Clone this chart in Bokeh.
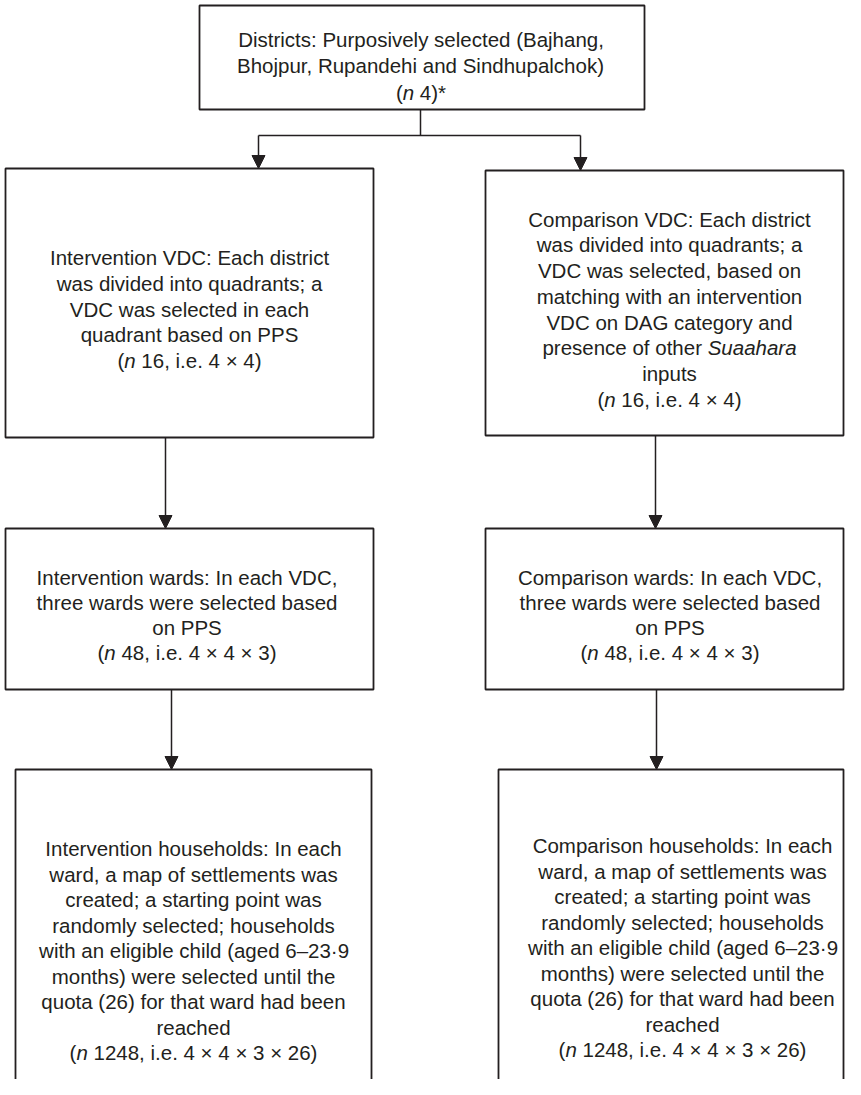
from bokeh.plotting import figure
from bokeh.models import Range1d, Arrow, NormalHead, ColumnDataSource
from bokeh.core.properties import value
from bokeh.embed import file_html
from bokeh.resources import INLINE

# ---------------- data (texts of the flow diagram) ----------------
n_values = [4, 16, 16, 48, 48, 1248, 1248]
n_formulas = ["", "4 × 4", "4 × 4", "4 × 4 × 3", "4 × 4 × 3", "4 × 4 × 3 × 26", "4 × 4 × 3 × 26"]

districts_text = ["Districts: Purposively selected (Bajhang,",
                  "Bhojpur, Rupandehi and Sindhupalchok)"]
int_vdc_text = ["Intervention VDC: Each district",
                "was divided into quadrants; a",
                "VDC was selected in each",
                "quadrant based on PPS"]
cmp_vdc_text = ["Comparison VDC: Each district",
                "was divided into quadrants; a",
                "VDC was selected, based on",
                "matching with an intervention",
                "VDC on DAG category and",
                "presence of other _Suaahara_",
                "inputs"]
int_ward_text = ["Intervention wards: In each VDC,",
                 "three wards were selected based",
                 "on PPS"]
cmp_ward_text = ["Comparison wards: In each VDC,",
                 "three wards were selected based",
                 "on PPS"]
int_hh_text = ["Intervention households: In each",
               "ward, a map of settlements was",
               "created; a starting point was",
               "randomly selected; households",
               "with an eligible child (aged 6–23·9",
               "months) were selected until the",
               "quota (26) for that ward had been",
               "reached"]
cmp_hh_text = ["Comparison households: In each",
               "ward, a map of settlements was",
               "created; a starting point was",
               "randomly selected; households",
               "with an eligible child (aged 6–23·9",
               "months) were selected until the",
               "quota (26) for that ward had been",
               "reached"]


def n_line(i):
    if n_formulas[i]:
        return "(_n_ %d, i.e. %s)" % (n_values[i], n_formulas[i])
    return "(_n_ %d)*" % n_values[i]


box_texts = [
    districts_text + [n_line(0)],
    int_vdc_text + [n_line(1)],
    cmp_vdc_text + [n_line(2)],
    int_ward_text + [n_line(3)],
    cmp_ward_text + [n_line(4)],
    int_hh_text + [n_line(5)],
    cmp_hh_text + [n_line(6)],
]

# ---------------- layout (pixels) ----------------
# box: left, right, top, bottom ; text centre x, first baseline, line step
boxes = [
    (207, 652, 13, 117, 428.5, 46.5, 26.8),
    (13, 381, 176, 445, 197, 265, 25.8),
    (493, 851, 178, 443, 677, 226.7, 25.7),
    (13, 381, 536, 697, 194.5, 585, 25.0),
    (493, 851, 536, 697, 677.5, 585, 25.0),
    (23, 379, 777, 1100, 201, 856, 25.5),
    (506, 851, 777, 1100, 690, 853, 25.5),
]

FONT = "Liberation Sans"
FS = 20.5
INK = "#231f20"

# Helvetica/Arial advance widths (1/1000 em)
W = {' ': 278, '(': 333, ')': 333, '*': 389, ',': 278, '-': 333, '.': 278, ':': 278, ';': 278,
     'A': 667, 'B': 667, 'C': 722, 'D': 722, 'E': 667, 'F': 611, 'G': 778, 'H': 722, 'I': 278,
     'J': 500, 'K': 667, 'L': 556, 'M': 833, 'N': 722, 'O': 778, 'P': 667, 'Q': 778, 'R': 722,
     'S': 667, 'T': 611, 'U': 722, 'V': 667, 'W': 944, 'X': 667, 'Y': 667, 'Z': 611,
     'a': 556, 'b': 556, 'c': 500, 'd': 556, 'e': 556, 'f': 278, 'g': 556, 'h': 556, 'i': 222,
     'j': 222, 'k': 500, 'l': 222, 'm': 833, 'n': 556, 'o': 556, 'p': 556, 'q': 556, 'r': 333,
     's': 500, 't': 278, 'u': 556, 'v': 500, 'w': 722, 'x': 500, 'y': 500, 'z': 500,
     '×': 584, '–': 556, '·': 278}


def width(s):
    return sum(W.get(c, 556) for c in s) * FS / 1000.0


norm = dict(x=[], y=[], t=[])
ital = dict(x=[], y=[], t=[])

for (l, r, t, b, cx, y0, dy), lines in zip(boxes, box_texts):
    for k, line in enumerate(lines):
        segs = line.split("_")
        total = sum(width(s) for s in segs)
        x = cx - total / 2.0
        y = y0 + k * dy
        for j, s in enumerate(segs):
            body = s.lstrip(" ")
            lead = width(s[:len(s) - len(body)])
            body = body.rstrip(" ")
            if body:
                d = ital if j % 2 == 1 else norm
                d["x"].append(x + lead)
                d["y"].append(y)
                d["t"].append(body)
            x += width(s)

p = figure(width=845, height=1079, x_range=Range1d(8, 853), y_range=Range1d(1087, 8),
           output_backend="svg", toolbar_location=None, min_border=0,
           x_axis_location=None, y_axis_location=None)
p.grid.visible = False
p.outline_line_color = None
p.background_fill_color = "white"
p.border_fill_color = "white"

p.quad(left=[b[0] for b in boxes], right=[b[1] for b in boxes],
       top=[b[2] for b in boxes], bottom=[b[3] for b in boxes],
       fill_color=None, line_color=INK, line_width=1.8)

# connectors
p.line([428, 428], [117, 143], line_color=INK, line_width=1.5)
p.line([266, 588], [143, 143], line_color=INK, line_width=1.5)

arrows = [(266, 143, 266, 176), (588, 143, 588, 178),
          (173, 445, 173, 536), (663, 443, 663, 536),
          (179, 697, 179, 777), (664, 697, 664, 777)]
for xs, ys, xe, ye in arrows:
    p.add_layout(Arrow(x_start=xs, y_start=ys, x_end=xe, y_end=ye, line_color=INK,
                       line_width=1.5,
                       end=NormalHead(size=13, fill_color=INK, line_color=INK, line_width=1)))

p.text(x="x", y="y", text="t", source=ColumnDataSource(norm), text_font=value(FONT),
       text_font_size="%gpx" % FS, text_color=INK, text_align="left",
       text_baseline="alphabetic")
p.text(x="x", y="y", text="t", source=ColumnDataSource(ital), text_font=value(FONT),
       text_font_size="%gpx" % FS, text_font_style="italic", text_color=INK,
       text_align="left", text_baseline="alphabetic")

open("out.html", "w").write(file_html(p, INLINE))
